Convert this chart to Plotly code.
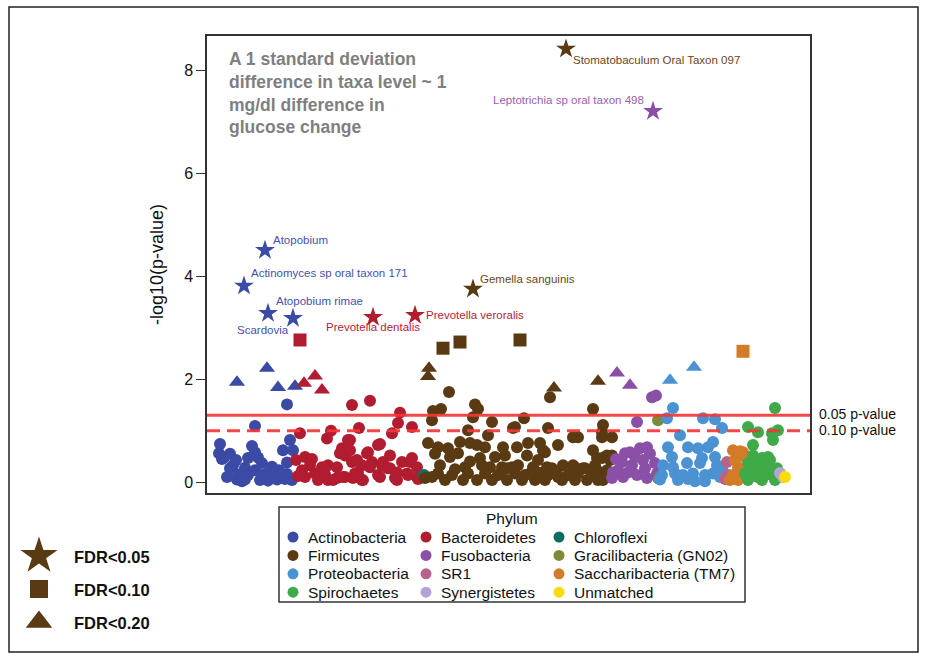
import plotly.graph_objects as go
import math

# ---------------- data ----------------
phyla = ["Actinobacteria", "Bacteroidetes", "Chloroflexi",
         "Firmicutes", "Fusobacteria", "Gracilibacteria (GN02)",
         "Proteobacteria", "SR1", "Saccharibacteria (TM7)",
         "Spirochaetes", "Synergistetes", "Unmatched"]

# taxon order position along x (taxa grouped by phylum) and -log10(p)
actino_pos = [13, 12, 17, 23, 26, 29, 20, 23, 30, 31, 35, 38, 41, 41, 45, 48, 48, 51, 55, 55, 60, 65, 65, 70,
              72, 76, 78, 80, 80, 83, 86, 85, 48, 80, 15, 38, 53, 61]
actino_logp = [0.74, 0.56, 0.48, 0.55, 0.33, 0.43, 0.10, 0.27, 0.05, 0.15, 0.02, 0.28, 0.14, 0.47, 0.70, 0.58,
               0.23, 0.48, 0.37, 0.14, 0.17, 0.10, 0.30, 0.05, 0.23, 0.62, 0.06, 0.38, 0.16, 0.82, 0.62, 0.04,
               1.09, 1.51, 0.45, 0.05, 0.04, 0.03]

bactero_pos = [145, 163, 193, 93, 124, 152, 205, 191, 185, 173, 143, 120, 141, 98, 103, 95, 108, 115, 121, 98,
               111, 121, 130, 130, 135, 138, 145, 155, 151, 161, 165, 171, 175, 171, 155, 181, 188, 195, 146,
               138, 133, 143, 150, 136, 148, 160, 163, 156, 176, 183, 183, 173, 190, 190, 203, 200, 210, 126,
               205, 210, 201, 211, 89, 91, 105, 118]
bactero_logp = [1.50, 1.58, 1.35, 0.95, 1.00, 1.05, 1.07, 1.15, 0.95, 0.74, 0.82, 0.85, 0.82, 0.49, 0.33, 0.23,
                0.17, 0.29, 0.33, 0.10, 0.04, 0.04, 0.08, 0.29, 0.66, 0.52, 0.39, 0.33, 0.19, 0.58, 0.39, 0.72,
                0.33, 0.14, 0.04, 0.27, 0.08, 0.39, 0.08, 0.10, 0.56, 0.62, 0.43, 0.10, 0.17, 0.56, 0.29, 0.04,
                0.39, 0.52, 0.27, 0.10, 0.19, 0.04, 0.39, 0.17, 0.10, 0.04, 0.47, 0.29, 0.14, 0.06, 0.43, 0.12,
                0.45, 0.15]

chloro_pos = [217]
chloro_logp = [0.14]

firmi_pos = [242, 268, 271, 234, 226, 266, 225, 285, 317, 386, 261, 281, 306, 341, 366, 371, 395, 396, 343, 308,
             405, 221, 231, 241, 253, 263, 270, 278, 296, 310, 321, 333, 338, 351, 288, 298, 243, 251, 273, 320,
             331, 258, 275, 283, 305, 311, 295, 345, 356, 368, 378, 388, 395, 231, 225, 245, 261, 278, 291, 308,
             318, 331, 341, 351, 361, 371, 385, 395, 218, 238, 256, 270, 285, 300, 315, 328, 338, 355, 368, 380,
             391, 386, 400, 405, 336, 390, 403, 300, 326, 340, 366, 376, 390, 400, 293, 323, 350, 363, 396, 400,
             233, 248, 263, 228, 395]
firmi_logp = [1.75, 1.51, 1.42, 1.42, 1.38, 1.26, 1.20, 1.17, 1.24, 1.42, 1.01, 0.91, 1.05, 1.05, 0.87, 0.87,
              0.87, 1.11, 1.65, 1.07, 0.87, 0.76, 0.68, 0.66, 0.78, 0.76, 0.72, 0.68, 0.68, 0.68, 0.76, 0.76,
              0.58, 0.72, 0.49, 0.52, 0.49, 0.56, 0.47, 0.52, 0.43, 0.29, 0.33, 0.29, 0.29, 0.33, 0.29, 0.27,
              0.33, 0.29, 0.27, 0.33, 0.47, 0.17, 0.10, 0.14, 0.17, 0.17, 0.14, 0.17, 0.14, 0.19, 0.14, 0.10,
              0.14, 0.17, 0.14, 0.17, 0.08, 0.04, 0.04, 0.04, 0.04, 0.04, 0.04, 0.04, 0.04, 0.04, 0.04, 0.04,
              0.04, 0.62, 0.52, 0.52, 0.62, 0.47, 0.43, 0.27, 0.29, 0.29, 0.33, 0.27, 0.23, 0.23, 0.17, 0.17,
              0.17, 0.14, 0.04, 0.17, 0.33, 0.25, 0.40, 0.55, 0.97]

fuso_pos = [445, 449, 430, 418, 423, 433, 440, 415, 428, 436, 411, 425, 438, 448, 416, 430, 440, 451, 406, 421,
            450, 409, 443, 405]
fuso_logp = [1.65, 1.68, 1.17, 0.56, 0.58, 0.66, 0.68, 0.39, 0.49, 0.43, 0.23, 0.33, 0.27, 0.37, 0.10, 0.14,
             0.08, 0.08, 0.19, 0.19, 0.17, 0.45, 0.55, 0.08]

graci_pos = [451, 452]
graci_logp = [1.20, 0.07]

proteo_pos = [466, 460, 496, 508, 515, 473, 461, 481, 491, 501, 506, 465, 495, 508, 456, 466, 480, 493, 510, 455,
              468, 476, 486, 498, 506, 471, 488, 498, 513, 515, 453, 481]
proteo_logp = [1.44, 1.24, 1.24, 1.22, 1.05, 0.91, 0.68, 0.68, 0.66, 0.68, 0.78, 0.49, 0.47, 0.49, 0.33, 0.29,
               0.37, 0.37, 0.33, 0.14, 0.17, 0.14, 0.17, 0.14, 0.17, 0.04, 0.02, 0.02, 0.10, 0.27, 0.05, 0.06]

sr1_pos = [520, 521, 518]
sr1_logp = [0.39, 0.14, 0.06]

saccha_pos = [526, 531, 536, 538, 528, 531, 526, 531, 523, 534, 533]
saccha_logp = [0.62, 0.58, 0.58, 0.49, 0.43, 0.29, 0.14, 0.04, 0.04, 0.10, 0.60]

spiro_pos = [568, 541, 551, 565, 571, 566, 546, 546, 541, 551, 561, 561, 538, 548, 558, 565, 541, 555, 568, 570,
             555, 563, 543, 556, 566, 551, 571]
spiro_logp = [1.44, 1.07, 0.97, 0.95, 1.01, 0.82, 0.72, 0.52, 0.37, 0.33, 0.49, 0.29, 0.17, 0.14, 0.14, 0.14,
              0.04, 0.04, 0.04, 0.27, 0.47, 0.43, 0.29, 0.27, 0.23, 0.10, 0.17]

synerg_pos = [573, 576]
synerg_logp = [0.18, 0.10]

unmatched_pos = [578]
unmatched_logp = [0.10]

# taxa passing an FDR threshold
sig_taxon = ["Atopobium", "Actinomyces sp oral taxon 171", "Atopobium rimae", "Scardovia",
             "", "", "", "",
             "", "Prevotella dentalis", "Prevotella veroralis", "", "", "",
             "Stomatobaculum Oral Taxon 097", "Gemella sanguinis", "", "", "", "", "", "", "",
             "Leptotrichia sp oral taxon 498", "", "",
             "", "",
             ""]
sig_phylum = ["Actinobacteria"] * 8 + ["Bacteroidetes"] * 6 + ["Firmicutes"] * 9 + ["Fusobacteria"] * 3 + \
             ["Proteobacteria"] * 2 + ["Saccharibacteria (TM7)"]
sig_fdr = [0.05, 0.05, 0.05, 0.05, 0.20, 0.20, 0.20, 0.20,
           0.10, 0.05, 0.05, 0.20, 0.20, 0.20,
           0.05, 0.05, 0.10, 0.10, 0.10, 0.20, 0.20, 0.20, 0.20,
           0.05, 0.20, 0.20,
           0.20, 0.20,
           0.10]
sig_pos = [58, 37, 61, 86, 30, 60, 71, 88,
           93, 166, 208, 97, 108, 115,
           359, 266, 236, 253, 313, 222, 221, 347, 391,
           446, 410, 423,
           463, 487,
           536]
sig_logp = [4.50, 3.81, 3.28, 3.18, 1.94, 2.21, 1.84, 1.86,
            2.76, 3.20, 3.24, 1.92, 2.06, 1.79,
            8.41, 3.75, 2.60, 2.72, 2.76, 2.21, 2.05, 1.83, 1.96,
            7.20, 2.12, 1.88,
            1.98, 2.23,
            2.54]

fdr_levels = [0.05, 0.10, 0.20]
fdr_labels = ["FDR<0.05", "FDR<0.10", "FDR<0.20"]
p_thresholds = [0.05, 0.10]
p_labels = ["0.05 p-value", "0.10 p-value"]

# ---------------- styles ----------------
phylum_colors = ["#3B4AA5", "#B21C30", "#0B6E62", "#5A3A13", "#8A4FA6", "#7D8B39",
                 "#4B92D3", "#B8638C", "#D37B29", "#3FAA48", "#B4A2D6", "#F8DC0A"]
label_colors = {"Actinobacteria": "#4550B0", "Bacteroidetes": "#B82235", "Firmicutes": "#6A4820",
                "Fusobacteria": "#9B5DB5"}
fdr_symbols = {0.05: "star", 0.10: "square", 0.20: "triangle-up"}
fdr_sizes = {0.05: 15, 0.10: 13, 0.20: 14}
key_sizes = {0.05: 28, 0.10: 18, 0.20: 23}
# label placement relative to the star: (xanchor, xshift, yshift)
label_place = {
    "Atopobium": ("left", 6, 10),
    "Actinomyces sp oral taxon 171": ("left", 5, 13),
    "Atopobium rimae": ("left", 6, 12),
    "Scardovia": ("right", -2, -12),
    "Prevotella dentalis": ("center", 0, -10),
    "Prevotella veroralis": ("left", 9, 0),
    "Gemella sanguinis": ("left", 5, 10),
    "Stomatobaculum Oral Taxon 097": ("left", 5, -11),
    "Leptotrichia sp oral taxon 498": ("right", -7, 11),
}
FONT = "Liberation Sans, Arial, sans-serif"
W, H = 927, 659

circle_data = [(actino_pos, actino_logp), (bactero_pos, bactero_logp), (chloro_pos, chloro_logp),
               (firmi_pos, firmi_logp), (fuso_pos, fuso_logp), (graci_pos, graci_logp),
               (proteo_pos, proteo_logp), (sr1_pos, sr1_logp), (saccha_pos, saccha_logp),
               (spiro_pos, spiro_logp), (synerg_pos, synerg_logp), (unmatched_pos, unmatched_logp)]

fig = go.Figure()

# circles per phylum
for name, col, (xs, ys) in zip(phyla, phylum_colors, circle_data):
    fig.add_trace(go.Scatter(x=xs, y=ys, mode="markers", name=name, showlegend=False,
                             marker=dict(symbol="circle", size=12, color=col, line=dict(width=0)),
                             xaxis="x", yaxis="y", cliponaxis=False))

# FDR-significant taxa
for lvl in fdr_levels:
    idx = [i for i, f in enumerate(sig_fdr) if f == lvl]
    fig.add_trace(go.Scatter(
        x=[sig_pos[i] for i in idx], y=[sig_logp[i] for i in idx], mode="markers", showlegend=False,
        text=[sig_taxon[i] for i in idx],
        marker=dict(symbol=fdr_symbols[lvl], size=fdr_sizes[lvl],
                    color=[phylum_colors[phyla.index(sig_phylum[i])] for i in idx], line=dict(width=0)),
        xaxis="x", yaxis="y"))

annotations = []
for t, ph, xv, yv in zip(sig_taxon, sig_phylum, sig_pos, sig_logp):
    if not t:
        continue
    xa, xs_, ys_ = label_place[t]
    annotations.append(dict(x=xv, y=yv, xref="x", yref="y", text=t, showarrow=False,
                            xanchor=xa, yanchor="middle", xshift=xs_, yshift=ys_,
                            font=dict(family=FONT, size=11.5, color=label_colors.get(ph, "#333"))))

# p-value threshold lines and labels
line_dash = ["solid", "13px,7px"]
for p, lab, dsh in zip(p_thresholds, p_labels, line_dash):
    yv = -math.log10(p)
    fig.add_shape(type="line", xref="x domain", yref="y", x0=0, x1=1, y0=yv, y1=yv,
                  line=dict(color="rgba(242,55,55,0.92)", width=3, dash=dsh), layer="above")
    annotations.append(dict(x=1, xref="x domain", y=yv, yref="y", text=lab, showarrow=False,
                            xanchor="left", xshift=7, yanchor="middle", yshift=1,
                            font=dict(family=FONT, size=14, color="#111")))

annotations.append(dict(x=0.033, xref="x domain", y=0.977, yref="y domain",
                        text="A 1 standard deviation<br>difference in taxa level ~ 1<br>mg/dl difference in<br>glucose change",
                        showarrow=False, xanchor="left", yanchor="top", align="left",
                        font=dict(family=FONT, size=17.5, color="#7F7F7F", weight="bold")))

# ---- FDR key (bottom-left) ----
for k, lvl in enumerate(fdr_levels):
    fig.add_trace(go.Scatter(x=[0], y=[k], mode="markers", showlegend=False, hoverinfo="skip",
                             marker=dict(symbol=fdr_symbols[lvl], size=key_sizes[lvl], color="#5A3A13"),
                             xaxis="x2", yaxis="y2", cliponaxis=False))
    annotations.append(dict(x=0, y=k, xref="x2", yref="y2", text=fdr_labels[k], showarrow=False,
                            xanchor="left", xshift=33, yanchor="middle", yshift=-1,
                            font=dict(family=FONT, size=16.5, color="#111", weight="bold")))

# ---- Phylum key (bottom-centre), 3 columns, row-major ----
ncol = 3
for i, (name, col) in enumerate(zip(phyla, phylum_colors)):
    c, r = i % ncol, i // ncol
    fig.add_trace(go.Scatter(x=[c], y=[r], mode="markers", showlegend=False, hoverinfo="skip",
                             marker=dict(symbol="circle", size=11, color=col),
                             xaxis="x3", yaxis="y3", cliponaxis=False))
    annotations.append(dict(x=c, y=r, xref="x3", yref="y3", text=name, showarrow=False,
                            xanchor="left", xshift=13, yanchor="middle",
                            font=dict(family=FONT, size=15.5, color="#111")))
annotations.append(dict(x=0.5, xref="x3 domain", y=-1, yref="y3", text="Phylum", showarrow=False,
                        xanchor="center", yanchor="middle", font=dict(family=FONT, size=15.5, color="#111")))
fig.add_shape(type="rect", xref="x3 domain", yref="y3 domain", x0=0, x1=1, y0=0, y1=1,
              line=dict(color="#333", width=1.5))

# outer frame
fig.add_shape(type="rect", xref="paper", yref="paper", x0=9 / W, x1=918 / W, y0=1 - 652 / H, y1=1 - 7 / H,
              line=dict(color="#222", width=1.5))

hidden = dict(visible=False, showgrid=False, zeroline=False, fixedrange=True)
fig.update_layout(
    width=W, height=H, margin=dict(l=0, r=0, t=0, b=0),
    paper_bgcolor="white", plot_bgcolor="white",
    font=dict(family=FONT, color="#111"),
    showlegend=False,
    xaxis=dict(domain=[207 / W, 810 / W], range=[0, 603], showticklabels=False, ticks="",
               showgrid=False, zeroline=False, showline=True, mirror=True, linecolor="#333", linewidth=1.5),
    yaxis=dict(domain=[1 - 493 / H, 1 - 36 / H], range=[-0.21, 8.66], tickvals=[0, 2, 4, 6, 8],
               ticks="outside", ticklen=9, tickwidth=1.2, tickcolor="#333",
               tickfont=dict(family=FONT, size=16, color="#111"),
               title=dict(text="-log10(p-value)", font=dict(family=FONT, size=18, color="#111"), standoff=16),
               showgrid=False, zeroline=False, showline=True, mirror=True, linecolor="#333", linewidth=1.5),
    xaxis2=dict(domain=[0, 0.09], range=[-39 / 40, (0.09 * W - 39) / 40], anchor="y2", **hidden),
    yaxis2=dict(domain=[1 - 638 / H, 1 - 523 / H], range=[2 + (638 - 622) / 33, -(556 - 523) / 33],
                anchor="x2", **hidden),
    xaxis3=dict(domain=[279 / W, 745 / W], range=[-14 / 133, (745 - 293) / 133], anchor="y3", **hidden),
    yaxis3=dict(domain=[1 - 602 / H, 1 - 507 / H], range=[(602 - 537) / 18.4, -(537 - 507) / 18.4],
                anchor="x3", **hidden),
    annotations=annotations,
)

fig.write_html("out.html")
